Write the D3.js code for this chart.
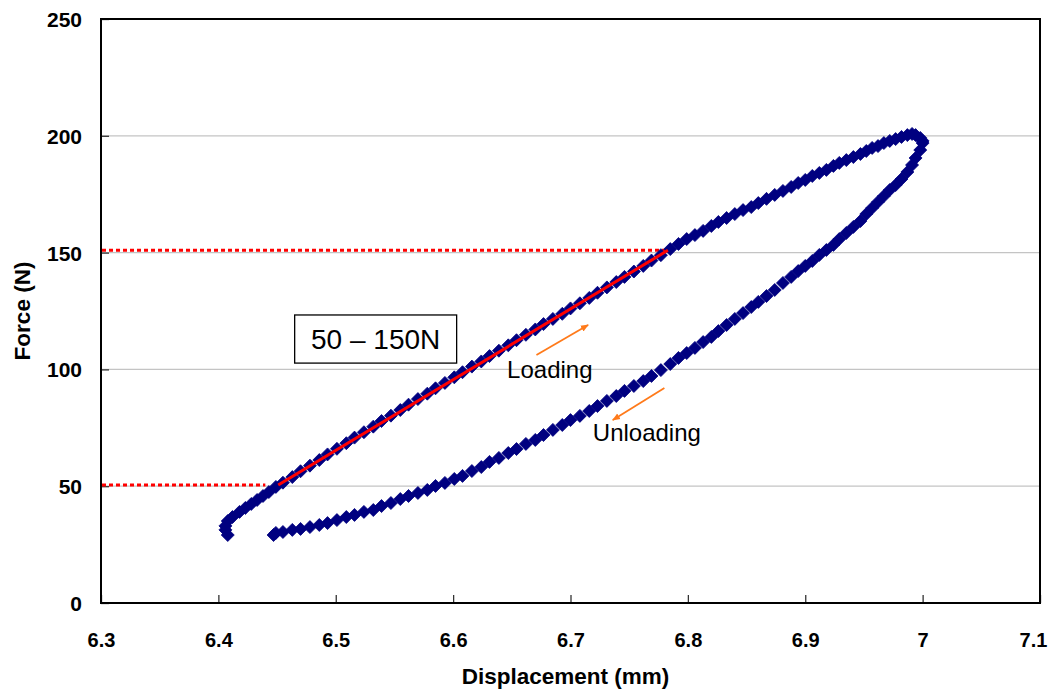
<!DOCTYPE html>
<html>
<head>
<meta charset="utf-8">
<script src="https://cdn.jsdelivr.net/npm/d3@7"></script>
<style>
  html, body { margin: 0; padding: 0; background: #fff; }
  svg { display: block; }
</style>
</head>
<body>
<svg id="chart" width="1049" height="693"></svg>
<script>
// ---------- data ----------
const xTicks = [6.3, 6.4, 6.5, 6.6, 6.7, 6.8, 6.9, 7.0, 7.1];
const xTickLabels = ["6.3", "6.4", "6.5", "6.6", "6.7", "6.8", "6.9", "7", "7.1"];
const yTicks = [0, 50, 100, 150, 200, 250];
const yTickLabels = ["0", "50", "100", "150", "200", "250"];

const loadingDisp = [6.408, 6.406, 6.406, 6.408, 6.412, 6.418, 6.423, 6.428, 6.433, 6.438, 6.443, 6.449,
  6.455, 6.463, 6.470, 6.478, 6.486, 6.493, 6.501, 6.509, 6.516, 6.524, 6.532, 6.539, 6.547, 6.555,
  6.562, 6.570, 6.578, 6.585, 6.593, 6.601, 6.608, 6.616, 6.624, 6.631, 6.639, 6.647, 6.654, 6.662,
  6.670, 6.677, 6.685, 6.693, 6.700, 6.708, 6.716, 6.723, 6.731, 6.739, 6.746, 6.754, 6.762, 6.769, 6.777,
  6.785, 6.792, 6.799, 6.806, 6.813, 6.820, 6.826, 6.833, 6.840, 6.847, 6.854, 6.860, 6.867, 6.874,
  6.881, 6.888, 6.894, 6.900, 6.906, 6.912, 6.918, 6.924, 6.929, 6.935, 6.941, 6.947, 6.952, 6.957,
  6.962, 6.967, 6.972, 6.977, 6.982, 6.987, 6.991, 6.994, 6.998, 7.000];
const loadingForce = [29.1, 31.3, 33.0, 35.1, 36.8, 39.0, 40.7, 42.4, 44.1, 45.8, 47.5, 49.7,
  51.5, 53.9, 56.4, 58.8, 61.2, 63.6, 66.0, 68.4, 70.8, 73.1, 75.5, 77.9, 80.2, 82.6,
  84.9, 87.3, 89.6, 91.9, 94.2, 96.6, 98.8, 101.2, 103.4, 105.7, 108.0, 110.3, 112.5, 114.8,
  117.1, 119.4, 121.6, 123.8, 126.1, 128.3, 130.6, 132.8, 135.1, 137.4, 139.6, 141.9, 144.3, 146.6, 148.9,
  151.5, 153.7, 155.8, 157.5, 159.3, 161.4, 163.1, 164.8, 166.5, 168.2, 169.5, 171.2, 173.0, 174.7,
  176.4, 178.1, 179.8, 181.1, 182.8, 184.1, 185.4, 187.1, 188.4, 189.6, 190.9, 192.2, 193.5, 194.8,
  195.6, 196.9, 197.8, 198.6, 199.5, 200.3, 200.8, 200.3, 199.1, 197.8];

const unloadingDisp = [7.000, 6.998, 6.994, 6.991, 6.987, 6.982, 6.977, 6.972, 6.967, 6.962, 6.957, 6.952,
  6.947, 6.941, 6.935, 6.929, 6.924, 6.918, 6.912, 6.906, 6.900, 6.894, 6.888, 6.881, 6.874, 6.867,
  6.860, 6.854, 6.847, 6.840, 6.833, 6.826, 6.820, 6.813, 6.806, 6.799, 6.792, 6.785, 6.777, 6.769,
  6.762, 6.754, 6.746, 6.739, 6.731, 6.723, 6.716, 6.708, 6.700, 6.693, 6.685, 6.677, 6.670, 6.662,
  6.654, 6.647, 6.639, 6.631, 6.624, 6.616, 6.608, 6.601, 6.593, 6.585, 6.578, 6.570, 6.562, 6.555,
  6.547, 6.539, 6.532, 6.524, 6.516, 6.509, 6.501, 6.493, 6.486, 6.478, 6.470, 6.463, 6.455, 6.449, 6.447];
const unloadingForce = [196.9, 193.9, 190.5, 187.5, 184.5, 181.5, 178.9, 176.8, 174.2, 171.7, 169.1, 166.5,
  163.5, 161.0, 158.4, 155.8, 153.3, 151.1, 149.0, 146.4, 144.3, 142.1, 139.6, 137.0, 134.0, 131.4,
  128.9, 126.7, 124.1, 121.6, 119.0, 116.4, 113.9, 111.7, 109.2, 107.0, 104.9, 102.3, 99.7, 97.2,
  95.0, 92.9, 90.8, 88.6, 86.5, 84.3, 82.2, 80.1, 78.3, 76.2, 74.1, 71.9, 69.8, 68.1,
  65.9, 64.2, 62.1, 60.4, 58.2, 56.5, 54.4, 53.1, 51.4, 50.1, 48.4, 47.1, 45.8, 44.5,
  42.8, 41.5, 39.8, 39.0, 37.7, 36.8, 35.5, 34.2, 33.4, 32.5, 31.7, 31.3, 30.4, 30.0, 29.1];

// linear fit segment 50-150 N and its reference levels
const fitDisp = [6.451, 6.783];
const fitForce = [50.5, 151];
const refLevels = [50.5, 151];
const refEndDisp = [6.44, 6.789];

// annotations (data coordinates)
const boxText = "50 \u2013 150N";
const boxCorners = { x0: 6.465, y0: 123.3, x1: 6.603, y1: 102.7 };
const labelTexts = ["Loading", "Unloading"];
const labelDisp = [6.646, 6.719];
const labelForce = [96.3, 69.4];
const arrowFromDisp = [6.671, 6.780];
const arrowFromForce = [106.2, 92.0];
const arrowToDisp = [6.715, 6.736];
const arrowToForce = [119.0, 78.3];

// ---------- drawing ----------
(function () {
const svg = d3.select("#chart");
const pL = 101, pR = 1040, pT = 19, pB = 603;
const x = d3.scaleLinear().domain([6.3, 7.1]).range([pL, pR]);
const y = d3.scaleLinear().domain([0, 250]).range([pB, pT]);
const FONT = "'Liberation Sans', Arial, Helvetica, sans-serif";

svg.append("rect").attr("width", 1049).attr("height", 693).attr("fill", "#fff");

// gridlines
svg.append("g").selectAll("line").data(yTicks.filter(d => d > 0 && d < 250)).join("line")
  .attr("x1", pL).attr("x2", pR)
  .attr("y1", d => y(d)).attr("y2", d => y(d))
  .attr("stroke", "#c4c4c4").attr("stroke-width", 1.2);

// axes with inner ticks
const xAxis = d3.axisBottom(x).tickValues(xTicks).tickSize(-8).tickPadding(0)
  .tickFormat((d, i) => xTickLabels[i]);
const gx = svg.append("g").attr("transform", `translate(0,${pB})`).call(xAxis);
gx.select(".domain").remove();
gx.selectAll(".tick line").attr("stroke", "#333").attr("stroke-width", 1.3);
gx.selectAll(".tick text").attr("font-family", FONT).attr("font-weight", "bold")
  .attr("font-size", 20).attr("fill", "#000").attr("dy", null).attr("y", 44)
  .attr("x", (d, i) => i === xTicks.length - 1 ? -7 : 0);

const yAxis = d3.axisLeft(y).tickValues(yTicks).tickSize(-8).tickPadding(0)
  .tickFormat((d, i) => yTickLabels[i]);
const gy = svg.append("g").attr("transform", `translate(${pL},0)`).call(yAxis);
gy.select(".domain").remove();
gy.selectAll(".tick line").attr("stroke", "#333").attr("stroke-width", 1.3);
gy.selectAll(".tick text").attr("font-family", FONT).attr("font-weight", "bold")
  .attr("font-size", 21).attr("fill", "#000").attr("x", -19).attr("dy", "0.36em");

// plot frame
svg.append("rect").attr("x", pL).attr("y", pT)
  .attr("width", pR - pL).attr("height", pB - pT)
  .attr("fill", "none").attr("stroke", "#000").attr("stroke-width", 2);

// axis titles
svg.append("text").attr("x", (pL + pR) / 2 - 5).attr("y", 684)
  .attr("text-anchor", "middle").attr("font-family", FONT).attr("font-weight", "bold")
  .attr("font-size", 22.5).text("Displacement (mm)");
svg.append("text").attr("transform", `translate(30,${(pT + pB) / 2}) rotate(-90)`)
  .attr("text-anchor", "middle").attr("font-family", FONT).attr("font-weight", "bold")
  .attr("font-size", 22.5).text("Force (N)");

// dotted reference lines
svg.append("g").selectAll("line").data(refLevels).join("line")
  .attr("x1", x(6.3) + 1).attr("x2", (d, i) => x(refEndDisp[i]))
  .attr("y1", d => y(d)).attr("y2", d => y(d))
  .attr("stroke", "#ff0000").attr("stroke-width", 3).attr("stroke-dasharray", "4,3");

// markers
const diamond = "M0,-6.5L6.5,0L0,6.5L-6.5,0Z";
const pts = loadingDisp.map((d, i) => [d, loadingForce[i]])
  .concat(unloadingDisp.map((d, i) => [d, unloadingForce[i]]));
svg.append("g").selectAll("path").data(pts).join("path")
  .attr("d", diamond)
  .attr("transform", d => `translate(${x(d[0])},${y(d[1])})`)
  .attr("fill", "#000080").attr("stroke", "#000080").attr("stroke-width", 0.8);

// fitted red line
svg.append("line")
  .attr("x1", x(fitDisp[0])).attr("y1", y(fitForce[0]))
  .attr("x2", x(fitDisp[1])).attr("y2", y(fitForce[1]))
  .attr("stroke", "#ff0000").attr("stroke-width", 3);

// text box
svg.append("rect")
  .attr("x", x(boxCorners.x0)).attr("y", y(boxCorners.y0))
  .attr("width", x(boxCorners.x1) - x(boxCorners.x0))
  .attr("height", y(boxCorners.y1) - y(boxCorners.y0))
  .attr("fill", "#fff").attr("stroke", "#000").attr("stroke-width", 1.3);
svg.append("text")
  .attr("x", (x(boxCorners.x0) + x(boxCorners.x1)) / 2)
  .attr("y", y(boxCorners.y1) - 14)
  .attr("text-anchor", "middle").attr("font-family", FONT).attr("font-size", 28)
  .text(boxText);

// arrows
const defs = svg.append("defs");
defs.append("marker").attr("id", "ah").attr("viewBox", "0 0 10 10")
  .attr("refX", 9).attr("refY", 5).attr("markerWidth", 8).attr("markerHeight", 8)
  .attr("markerUnits", "userSpaceOnUse").attr("orient", "auto")
  .append("path").attr("d", "M0,1L10,5L0,9Z").attr("fill", "#ff7a1a");
svg.append("g").selectAll("line").data(arrowFromDisp).join("line")
  .attr("x1", d => x(d)).attr("y1", (d, i) => y(arrowFromForce[i]))
  .attr("x2", (d, i) => x(arrowToDisp[i])).attr("y2", (d, i) => y(arrowToForce[i]))
  .attr("stroke", "#ff7a1a").attr("stroke-width", 1.8).attr("marker-end", "url(#ah)");

// labels
svg.append("g").selectAll("text").data(labelTexts).join("text")
  .attr("x", (d, i) => x(labelDisp[i])).attr("y", (d, i) => y(labelForce[i]))
  .attr("font-family", FONT).attr("font-size", 24).attr("fill", "#000")
  .text(d => d);
})();
</script>
</body>
</html>
